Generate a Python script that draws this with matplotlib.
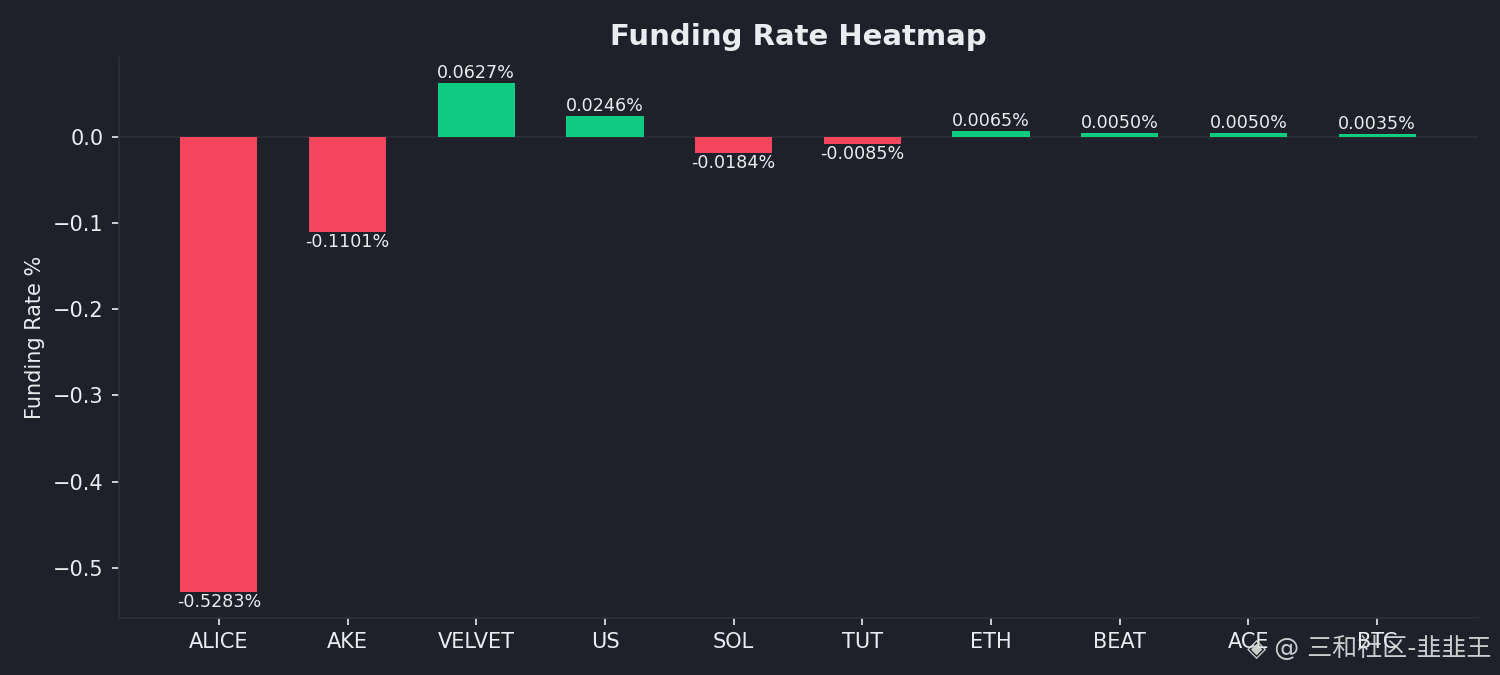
import matplotlib
matplotlib.use("Agg")
import matplotlib.pyplot as plt

symbols = ["ALICE", "AKE", "VELVET", "US", "SOL", "TUT", "ETH", "BEAT", "ACE", "BTC"]
rates = [-0.5283, -0.1101, 0.0627, 0.0246, -0.0184, -0.0085, 0.0065, 0.0050, 0.0050, 0.0035]

BG = "#1e2129"
GREEN = "#0ecb81"
RED = "#f6465d"
TEXT = "#eaecef"
GRID = "#2b2f38"

plt.rcParams['font.family'] = ['DejaVu Sans', 'Noto Sans CJK SC']

fig, ax = plt.subplots(figsize=(10, 4.5), dpi=150)
fig.patch.set_facecolor(BG)
ax.set_facecolor(BG)

colors = [GREEN if r >= 0 else RED for r in rates]
bars = ax.bar(range(len(symbols)), rates, width=0.6, color=colors)
ax.axhline(0, color=GRID, linewidth=0.8, zorder=0)

ax.bar_label(bars, labels=[f"{r:.4f}%" for r in rates], padding=0.5,
             fontsize=8.4, color=TEXT)

ax.set_xticks(range(len(symbols)))
ax.set_xticklabels(symbols)
ax.set_ylabel("Funding Rate %", color=TEXT)
ax.set_title("Funding Rate Heatmap", color=TEXT, fontsize=14, fontweight="bold")

ax.tick_params(colors=TEXT, which="both")
for s in ["top", "right"]:
    ax.spines[s].set_visible(False)
for s in ["left", "bottom"]:
    ax.spines[s].set_color(GRID)

fig.subplots_adjust(left=0.079, right=0.985, top=0.915, bottom=0.085)

fig.text(0.994, 0.04, "◈ @ 三和社区-韭韭王", ha="right", va="center",
         fontsize=12, color="#e0e0e0", alpha=0.9,
         family=['DejaVu Sans', 'Noto Sans CJK SC'])

fig.savefig("out.png", dpi=150, facecolor=BG)
